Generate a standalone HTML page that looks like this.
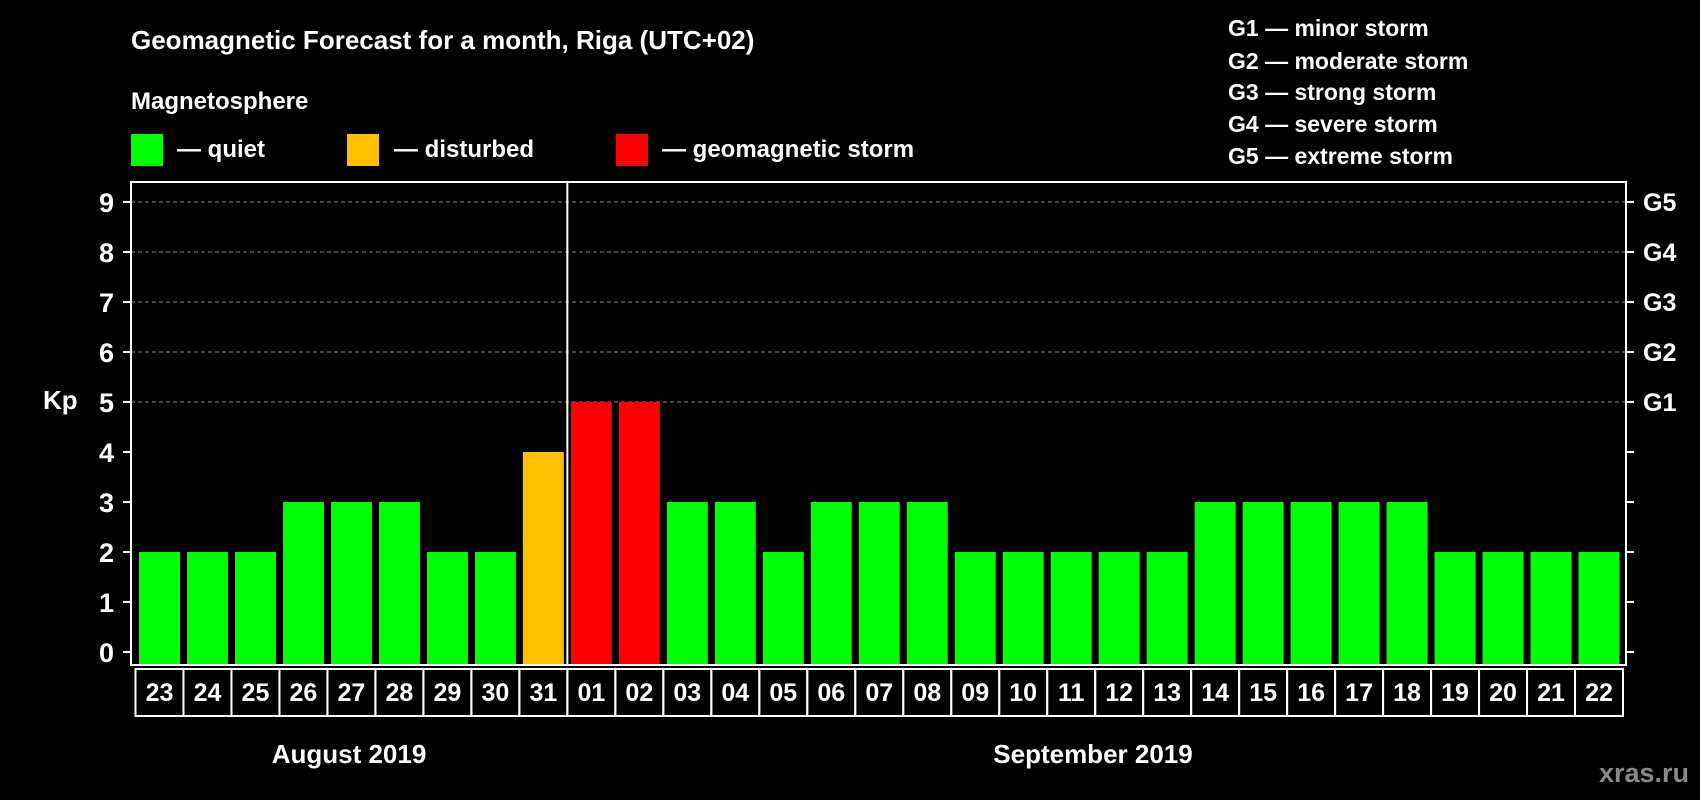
<!DOCTYPE html>
<html><head><meta charset="utf-8"><style>
html,body{margin:0;padding:0;background:#000;}
svg{display:block;font-family:"Liberation Sans",Arial,sans-serif;font-weight:bold;}
</style></head><body>
<svg id="chart" width="1700" height="800" viewBox="0 0 1700 800" xmlns="http://www.w3.org/2000/svg">
<rect width="1700" height="800" fill="#000"/>
<text x="131" y="49" fill="#fff" font-size="26">Geomagnetic Forecast for a month, Riga (UTC+02)</text>
<text x="131" y="109" fill="#fff" font-size="24">Magnetosphere</text>
<g><rect x="131" y="134" width="32" height="32" fill="#00ff00"/><text x="177" y="157" fill="#fff" font-size="24">— quiet</text></g>
<g><rect x="347" y="134" width="32" height="32" fill="#ffc000"/><text x="394" y="157" fill="#fff" font-size="24">— disturbed</text></g>
<g><rect x="616" y="134" width="32" height="32" fill="#ff0000"/><text x="662" y="157" fill="#fff" font-size="24">— geomagnetic storm</text></g>
<g fill="#fff" font-size="23">
<text x="1228" y="36">G1 — minor storm</text>
<text x="1228" y="69">G2 — moderate storm</text>
<text x="1228" y="100">G3 — strong storm</text>
<text x="1228" y="132">G4 — severe storm</text>
<text x="1228" y="164">G5 — extreme storm</text>
</g>
<text x="43" y="409" fill="#fff" font-size="26">Kp</text>
<text x="349" y="763" fill="#fff" font-size="26" text-anchor="middle">August 2019</text>
<text x="1093" y="763" fill="#fff" font-size="26" text-anchor="middle">September 2019</text>
<text x="1689" y="782" fill="#8a8a8a" font-size="27" text-anchor="end">xras.ru</text>
<g id="grid"></g><g id="bars"></g><g id="axes"></g>
</svg>
<script>
const days = ["23","24","25","26","27","28","29","30","31","01","02","03","04","05","06","07","08","09","10","11","12","13","14","15","16","17","18","19","20","21","22"];
const kp = [2,2,2,3,3,3,2,2,4,5,5,3,3,2,3,3,3,2,2,2,2,2,3,3,3,3,3,2,2,2,2];
const yTicks = [0,1,2,3,4,5,6,7,8,9];
const gLabels = ["G1","G2","G3","G4","G5"];
const gLevels = [5,6,7,8,9];

const NS="http://www.w3.org/2000/svg";
const plotL=131, plotR=1626, plotT=182, plotB=665;
const catL=135.5, slot=(1623-135.5)/days.length;
function y(v){return 652 - v*50;}
function x(i){return catL + i*slot;}
function mk(tag,attrs,parent){const e=document.createElementNS(NS,tag);for(const k in attrs)e.setAttribute(k,attrs[k]);parent.appendChild(e);return e;}
const grid=document.getElementById('grid'), bars=document.getElementById('bars'), axes=document.getElementById('axes');
function color(v){return v>=5?"#ff0000":(v>=4?"#ffc000":"#00ff00");}

gLevels.forEach(v=>{
  const l=mk('line',{x1:plotL,x2:plotR,y1:y(v),y2:y(v),stroke:"#888","stroke-dasharray":"4,3","stroke-width":1},grid);
  
  
});
kp.forEach((v,i)=>{
  const r=mk('rect',{x:x(i)+3.5,y:y(v),width:slot-7,height:y(0)-y(v)+13,fill:color(v)},bars);
  
  
});
const frame=mk('rect',{x:plotL,y:plotT,width:plotR-plotL,height:plotB-plotT,fill:"none",stroke:"#fff","stroke-width":2},axes);


const div=mk('line',{x1:x(9),x2:x(9),y1:plotT,y2:plotB,stroke:"#fff","stroke-width":2},axes);


yTicks.forEach(v=>{
  mk('line',{x1:plotL-8,x2:plotL,y1:y(v),y2:y(v),stroke:"#fff","stroke-width":2},axes);
  mk('line',{x1:plotR,x2:plotR+8,y1:y(v),y2:y(v),stroke:"#fff","stroke-width":2},axes);
  const t=mk('text',{x:114,y:y(v)+10,fill:"#fff","font-size":27,"text-anchor":"end"},axes);
  t.textContent=v;
  
  
});
gLevels.forEach((v,i)=>{
  const t=mk('text',{x:1643,y:y(v)+9,fill:"#fff","font-size":25},axes);
  t.textContent=gLabels[i];
  
  
});
days.forEach((d,i)=>{
  const b=mk('rect',{x:x(i),y:669,width:slot,height:47,fill:"none",stroke:"#fff","stroke-width":2},axes);
  
  
  const t=mk('text',{x:x(i)+slot/2,y:701,fill:"#fff","font-size":25,"text-anchor":"middle"},axes);
  t.textContent=d;
  
  
});
</script>
</body></html>
